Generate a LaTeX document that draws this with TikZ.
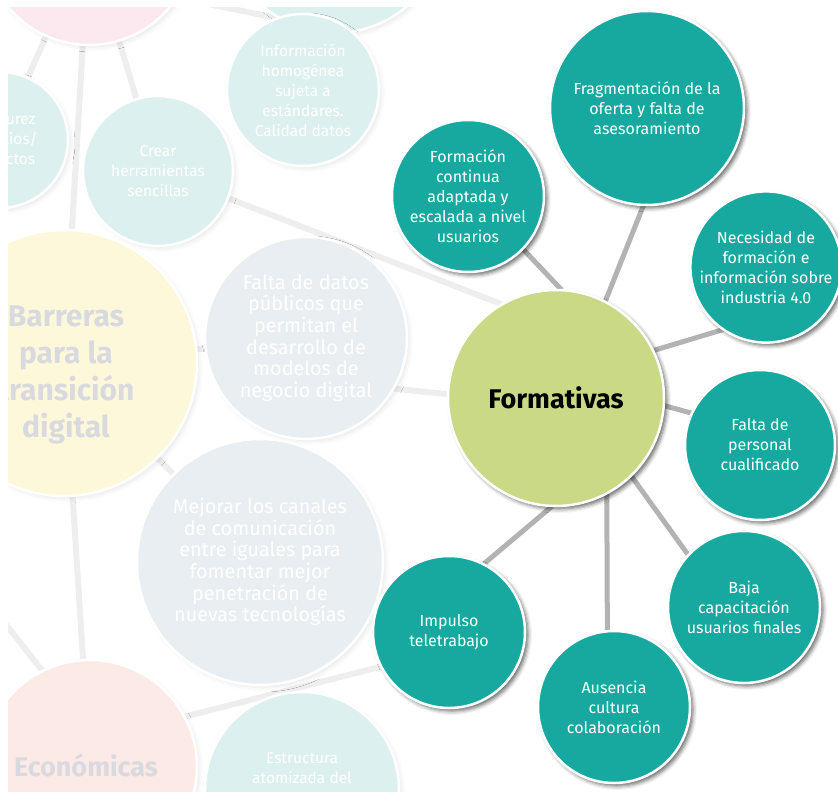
\documentclass[tikz,border=0pt]{standalone}
\usepackage{fontspec}
\setmainfont{Fira Sans}
\usetikzlibrary{shapes,shadows.blur}
\definecolor{tealdark}{HTML}{17A99F}
\definecolor{limegreen}{HTML}{C9D985}
\definecolor{edgegray}{HTML}{B3B3B3}
\definecolor{fadepink}{HTML}{FCE8EF}
\definecolor{fadeteal}{HTML}{DCF1EF}
\definecolor{fadeyellow}{HTML}{FEF8DB}
\definecolor{fadegray}{HTML}{E8EEF1}
\definecolor{fadesalmon}{HTML}{FCEAE7}
\definecolor{fadeline}{HTML}{EEEEEE}
\definecolor{fadetitle}{HTML}{D9DADF}
\tikzstyle{ghost}=[circle,inner sep=0pt]
\tikzstyle{topic}=[circle,draw=white,line width=2.5pt,fill=tealdark,text=white,align=center,inner sep=0pt,font=\fontsize{16}{20}\selectfont,blur shadow={shadow xshift=3pt,shadow yshift=-3pt,shadow blur radius=4pt,shadow opacity=60}]
\tikzstyle{selected topic} = [topic, fill=limegreen, text=black, font=\fontsize{27}{30}\selectfont\bfseries]
\tikzstyle{faded topic}=[circle,draw=white,line width=2.5pt,text=white,align=center,inner sep=0pt,font=\fontsize{15.5}{20}\selectfont,blur shadow={shadow xshift=3pt,shadow yshift=-3pt,shadow blur radius=4pt,shadow opacity=8}]
\tikzstyle{faded big topic} = [faded topic, font=\fontsize{19.8}{21.6}\selectfont]
\tikzstyle{faded title} = [text=fadetitle, align=center, inner sep=0pt, font=\fontsize{30}{37}\selectfont\bfseries]
\tikzstyle{faded text} = [text=white, align=center, inner sep=0pt, font=\fontsize{15.5}{20}\selectfont]
\tikzstyle{link} = [draw,line width=5pt,edgegray]
\tikzstyle{faded link} = [draw,line width=6pt,fadeline]

% node lists: position/diameter/name/(colour/)text
\def\fadednodes{{(89,-60)/210/pinktop/fadepink/{}},{(335,-77)/220/tealtop/fadeteal/{}},
    {(303,90)/152/informacion/fadeteal/{Información\\homogénea\\sujeta a\\estándares.\\Calidad datos}},
    {(0,140)/136/madurez/fadeteal/{}},{(158,171)/150/crear/fadeteal/{Crear\\herramientas\\sencillas}},
    {(302,789)/194/estructura/fadeteal/{}},{(64,363)/266/barreras/fadeyellow/{}},{(90,767)/214/economicas/fadesalmon/{}}}
\def\fadedbignodes{{(306,338)/202/faltadatos/{Falta de datos\\públicos que\\permitan el\\desarrollo de\\modelos de\\negocio digital}},
    {(260,562)/246/mejorar/{Mejorar los canales\\de comunicación\\entre iguales para\\fomentar mejor\\penetración de\\nuevas tecnologías}}}
\def\barriernodes{{(468,196)/152/formacion/{Formación\\continua\\adaptada y\\escalada a nivel\\usuarios}},
    {(647,108)/194/fragmentacion/{Fragmentación de la\\oferta y falta de\\asesoramiento}},
    {(766,267)/150/necesidad/{Necesidad de\\formación e\\información sobre\\industria 4.0}},
    {(760,445)/150/personal/{Falta de\\personal\\cualificado}},
    {(744,607)/152/baja/{Baja\\capacitación\\usuarios finales}},
    {(614,707)/152/ausencia/{Ausencia\\cultura\\colaboración}},
    {(449,632)/152/impulso/{Impulso\\teletrabajo}}}

\begin{document}
\begin{tikzpicture}[x=1pt,y=-1pt]
    \useasboundingbox (0,0) rectangle (838,792);
    \clip (8,8) rectangle (838,792);

    % First only the outlines, so that the edges can go behind the circles
    \foreach \pos/\size/\name/\col/\txt in \fadednodes
        \node[ghost, minimum size=\size pt] (\name) at \pos {};
    \foreach \pos/\size/\name/\txt in \fadedbignodes
        \node[ghost, minimum size=\size pt] (\name) at \pos {};
    \foreach \pos/\size/\name/\txt in \barriernodes
        \node[ghost, minimum size=\size pt] (\name) at \pos {};
    \node[ghost, minimum size=216pt] (formativas) at (556,398) {};
    \coordinate (fadeA) at (150,-8);
    \coordinate (fadeB) at (330,29);
    \coordinate (fadeC) at (-30,579);
    \coordinate (fadeD) at (60,693);

    % Background map, faded
    \foreach \source/\dest in {pinktop/madurez,pinktop/barreras,pinktop/crear,crear/formativas.120,
        faltadatos.-30/formativas.178,barreras/faltadatos,barreras/mejorar,barreras/economicas,
        economicas.28/impulso.207,fadeA/fadeB,fadeC/fadeD}
        \path[faded link] (\source) -- (\dest);

    \foreach \pos/\size/\name/\col/\txt in \fadednodes
        \node[faded topic, fill=\col, minimum size=\size pt] (\name) at \pos {\txt};
    \foreach \pos/\size/\name/\txt in \fadedbignodes
        \node[faded big topic, fill=fadegray, minimum size=\size pt] (\name) at \pos {\txt};

    \node[faded title] (barrerastxt) at (66,375) {Barreras\\para la\\transición\\digital};
    \node[faded title, font=\fontsize{27}{30}\selectfont\bfseries] (economicastxt) at (86,765) {Económicas};
    \node[faded text, anchor=east] (madureztxt) at (38,140) {urez\\tios/\\ctos};
    \node[faded text] (estructuratxt) at (302,768) {Estructura\\atomizada del};

    % Connect Formativas with its barriers
    \foreach \source/\dest in {formativas.87/formacion.-44,formativas.63/fragmentacion.268,formativas.26/necesidad.236,
        formativas.-4/personal.155,formativas.-46/baja.137,formativas.-62/ausencia.95,formativas.268/impulso.63}
        \path[link] (\source) -- (\dest);

    \foreach \pos/\size/\name/\txt in \barriernodes
        \node[topic, minimum size=\size pt] (\name) at \pos {\txt};
    \node[selected topic, minimum size=216pt] (formativas) at (556,398) {Formativas};

\end{tikzpicture}
\end{document}
